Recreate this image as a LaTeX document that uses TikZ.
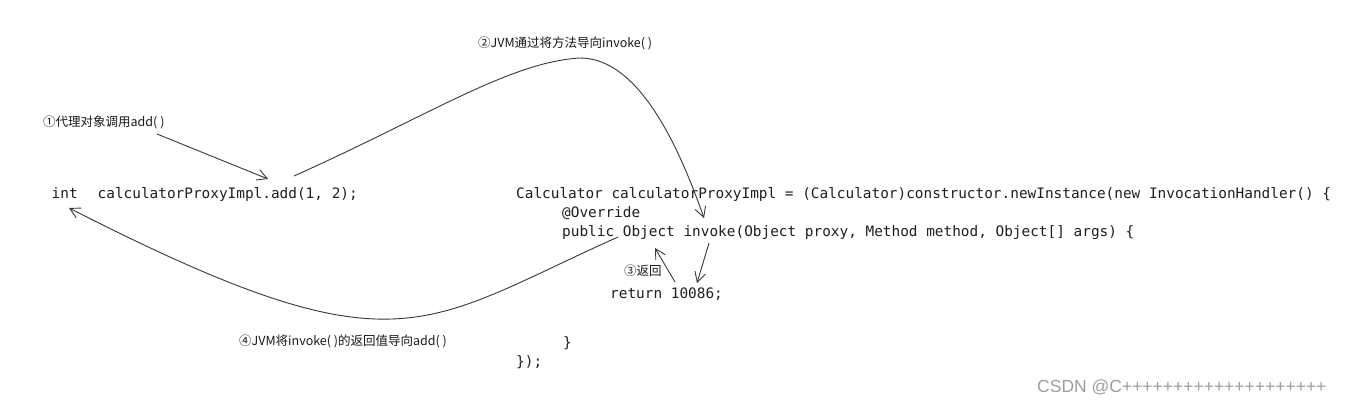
\documentclass[tikz,border=0pt]{standalone}
\usepackage{fontspec}
\newfontfamily\cjk{Noto Sans CJK SC}
\newfontfamily\codefont{DejaVu Sans Mono}
\newfontfamily\wmfont{Liberation Sans}
\usetikzlibrary{arrows.meta}
\tikzset{
  code/.style={anchor=base west, inner sep=0pt, text=black!88,
    font=\codefont\fontsize{14.4bp}{17bp}\selectfont},
  lbl/.style={anchor=west, inner sep=0pt, text=black!90,
    font=\cjk\fontsize{12.5bp}{15bp}\selectfont},
  wmark/.style={anchor=base west, inner sep=0pt, text=black!38,
    font=\wmfont\fontsize{17.5bp}{20bp}\selectfont},
  conn/.style={draw=black!78, line width=0.9bp,
    -{Straight Barb[length=10bp,width=11bp]}},
}
\begin{document}
\begin{tikzpicture}[x=1bp,y=-1bp]
\useasboundingbox (0,0) rectangle (1363,403);
\fill[white] (0,0) rectangle (1363,403);

% code
\node[code] (callline) at (51.5,198) {int\hspace{20bp}calculatorProxyImpl.add(1, 2);};
\node[code] (decl) at (516,198) {Calculator calculatorProxyImpl = (Calculator)constructor.newInstance(new InvocationHandler() \{};
\node[code] (override) at (562,217) {@Override};
\node[code] (sig) at (562,236) {public Object invoke(Object proxy, Method method, Object[] args) \{};
\node[code] (ret) at (610,298) {return 10086;};
\node[code] (close1) at (563,347) {\}};
\node[code] (close2) at (516,366) {\});};

% labels
\node[lbl] (l1) at (43,122.5) {①代理对象调用add( )};
\node[lbl] (l2) at (478,43) {②JVM通过将方法导向invoke( )};
\node[lbl] (l3) at (624,271) {③返回};
\node[lbl] (l4) at (239,341) {④JVM将invoke( )的返回值导向add( )};

% watermark
\node[wmark] (wm) at (1037,392) {CSDN @C++++++++++++++++++++};

% connector end points
\coordinate (a1s) at (157,134);
\coordinate (a1e) at (268,179);
\coordinate (a2s) at (294,176);
\coordinate (a2p) at (580,58);
\coordinate (a2e) at (704,218);
\coordinate (a2bs) at (709,243);
\coordinate (a2be) at (697,283);
\coordinate (a3s) at (675,282);
\coordinate (a3e) at (655,248);
\coordinate (a4s) at (618,237);
\coordinate (a4e) at (69,208);

% connectors
\draw[conn] (a1s) -- (a1e);
\draw[conn] (a2s) .. controls (430,115) and (510,62) .. (a2p)
                  .. controls (640,58) and (680,150) .. (a2e);
\draw[conn] (a2bs) -- (a2be);
\draw[conn] (a3s) -- (a3e);
\draw[conn] (a4s) .. controls (419,326) and (399,376) .. (a4e);
\end{tikzpicture}
\end{document}
